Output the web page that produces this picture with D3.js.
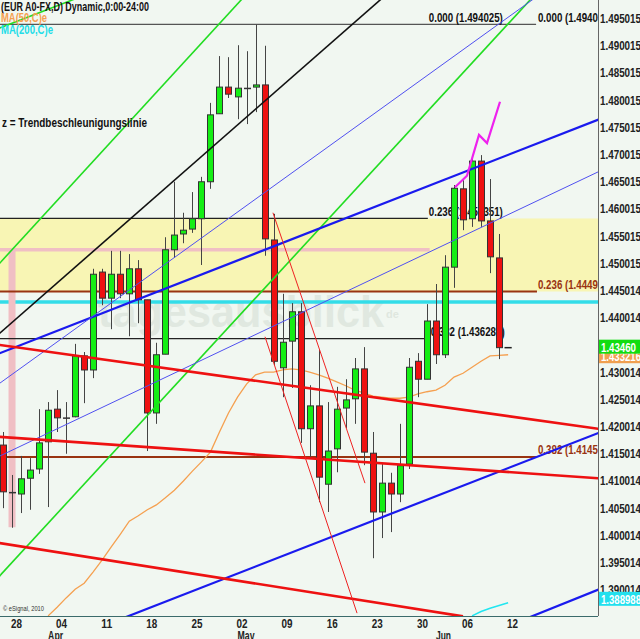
<!DOCTYPE html>
<html><head><meta charset="utf-8">
<script src="https://cdn.jsdelivr.net/npm/d3@7"></script>
<style>body{margin:0;background:#f1f7f1;} svg{display:block;}</style>
</head><body>
<script>
// ---------- DATA ----------
const dates = ["2010-03-26","2010-03-29","2010-03-30","2010-03-31","2010-04-01","2010-04-02","2010-04-05","2010-04-06","2010-04-07","2010-04-08","2010-04-09","2010-04-12","2010-04-13","2010-04-14","2010-04-15","2010-04-16","2010-04-19","2010-04-20","2010-04-21","2010-04-22","2010-04-23","2010-04-26","2010-04-27","2010-04-28","2010-04-29","2010-04-30","2010-05-03","2010-05-04","2010-05-05","2010-05-06","2010-05-07","2010-05-10","2010-05-11","2010-05-12","2010-05-13","2010-05-14","2010-05-17","2010-05-18","2010-05-19","2010-05-20","2010-05-21","2010-05-24","2010-05-25","2010-05-26","2010-05-27","2010-05-28","2010-05-31","2010-06-01","2010-06-02","2010-06-03","2010-06-04","2010-06-07","2010-06-08","2010-06-09","2010-06-10","2010-06-11"];
const open  = [1.4167,1.4080,1.4077,1.4106,1.4123,1.4173,1.4233,1.4217,1.4219,1.4331,1.4305,1.4485,1.4437,1.4481,1.4445,1.4491,1.4434,1.4226,1.4334,1.4526,1.4555,1.4564,1.4583,1.4651,1.4776,1.4825,1.4807,1.4823,1.4825,1.4829,1.4544,1.4309,1.4358,1.4412,1.4197,1.4239,1.4095,1.4160,1.4235,1.4252,1.4307,1.4152,1.4044,1.4097,1.4077,1.4132,1.4321,1.4288,1.4395,1.4333,1.4494,1.4638,1.4583,1.4689,1.4579,1.4511];
const high  = [1.4191,1.4112,1.4147,1.4143,1.4233,1.4246,1.4268,1.4246,1.4353,1.4338,1.4491,1.4491,1.4524,1.4524,1.4518,1.4507,1.4434,1.4355,1.4549,1.4651,1.4594,1.4632,1.4660,1.4796,1.4882,1.4880,1.4902,1.4891,1.4940,1.4901,1.4592,1.4445,1.4428,1.4428,1.4277,1.4342,1.4246,1.4274,1.4288,1.4327,1.4347,1.4191,1.4132,1.4116,1.4206,1.4327,1.4336,1.4426,1.4463,1.4516,1.4645,1.4654,1.4700,1.4700,1.4656,1.4555];
const low   = [1.4051,1.4015,1.4042,1.4048,1.4114,1.4053,1.4191,1.4151,1.4218,1.4244,1.4290,1.4424,1.4380,1.4437,1.4367,1.4391,1.4156,1.4206,1.4334,1.4511,1.4538,1.4557,1.4498,1.4638,1.4776,1.4805,1.4766,1.4757,1.4779,1.4515,1.4314,1.4255,1.4272,1.4171,1.4145,1.4062,1.4044,1.4117,1.4198,1.4206,1.4130,1.3959,1.3996,1.4007,1.4062,1.4123,1.4255,1.4288,1.4316,1.4327,1.4456,1.4562,1.4568,1.4568,1.4483,1.4325];
const close = [1.4081,1.4079,1.4105,1.4121,1.4171,1.4231,1.4217,1.4216,1.4331,1.4305,1.4481,1.4437,1.4481,1.4445,1.4491,1.4434,1.4226,1.4333,1.4526,1.4553,1.4562,1.4583,1.4651,1.4774,1.4825,1.4812,1.4823,1.4822,1.4829,1.4546,1.4321,1.4356,1.4412,1.4197,1.4239,1.4108,1.4156,1.4233,1.4250,1.4307,1.4154,1.4044,1.4097,1.4077,1.4129,1.4310,1.4288,1.4395,1.4333,1.4494,1.4639,1.4581,1.4689,1.4579,1.4513,1.4346];

const ma50Start = 5;
const ma50 = [1.3853,1.3869,1.3886,1.3902,1.3913,1.3934,1.3956,1.3980,1.4003,1.4027,1.4037,1.4048,1.4057,1.4070,1.4084,1.4101,1.4119,1.4136,1.4154,1.4191,1.4226,1.4255,1.4279,1.4296,1.4301,1.4301,1.4305,1.4307,1.4305,1.4301,1.4296,1.4290,1.4283,1.4276,1.4268,1.4263,1.4257,1.4255,1.4253,1.4253,1.4255,1.4261,1.4265,1.4268,1.4277,1.4292,1.4299,1.4310,1.4321,1.4331,1.4332,1.4333];
const ma200Start = 52;
const ma200 = [1.3853,1.3861,1.3867,1.3872,1.3877];

const lastPrice = 1.43460, lastMa50 = 1.433216, lastMa200 = 1.388988;
const lastPriceLabel = "1.43460", lastMa50Label = "1.433216", lastMa200Label = "1.388988";

const priceTicks = [1.495015,1.490015,1.485015,1.480015,1.475015,1.470015,1.465015,1.460015,1.455015,1.450015,1.445014,1.440014,1.435014,1.430014,1.425014,1.420014,1.415014,1.410014,1.405014,1.400014,1.395014,1.390014];
const priceTickLabels = ["1.495015","1.490015","1.485015","1.480015","1.475015","1.470015","1.465015","1.460015","1.455015","1.450015","1.445014","1.440014","1.435014","1.430014","1.425014","1.420014","1.415014","1.410014","1.405014","1.400014","1.395014","1.390014"];

const weekTickIndex = [1,6,11,16,21,26,31,36,41,46,51,56];
const weekTickLabels = ["28","04","11","18","25","02","09","16","23","30","06","12"];
const monthTickIndex = [5,26,48];
const monthLabels = ["Apr","May","Jun"];

// trend lines: two anchors [barIndex, price]
const trendNames  = ["black","greenA","greenB","greenC","blueUp","blueThin1","blueThin2","blueLow","blueLowest","redA","redB","redC"];
const trendP1     = [[-0.33,1.4373],[-0.33,1.4934],[2.99,1.4562],[32.93,1.4526],[-0.33,1.4336],[-0.33,1.4281],[-0.33,1.4147],[13.97,1.3853],[58.76,1.3853],[-0.33,1.4351],[-0.33,1.4182],[25.50,1.3919]];
const trendP2     = [[41.8,1.4985],[7.65,1.4985],[26.39,1.4985],[58.43,1.4985],[65.96,1.4765],[58.65,1.4985],[65.96,1.4669],[65.96,1.4189],[65.96,1.3901],[65.96,1.4197],[65.96,1.4106],[49.89,1.3855]];
const trendColors = ["#111111","#22dd22","#22dd22","#22dd22","#1a1aee","#5050f0","#5050f0","#1a1aee","#1a1aee","#ee1111","#ee1111","#ee1111"];
const trendWidths = [1.6,1.6,1.6,1.6,2.2,1,1,2.2,2.2,2.6,2.6,2.6];

// thin red segments
const segP1 = [[29.93,1.4594],[29.05,1.4366]];
const segP2 = [[40.13,1.4097],[39.25,1.3858]];

// magenta acceleration line
const zIdx   = [50.11,51.44,52.77,53.66,55.10];
const zPrice = [1.4641,1.4662,1.4737,1.4722,1.4798];

// horizontal levels
const fibLines  = [
  {p:1.494025, to:59.1, color:"#555555", w:1.2, label:"0.000 (1.494025)", lx:[47.1,59.2], lc:"#111"},
  {p:1.458351, to:47.1, color:"#222222", w:1.2, label:"0.236 (1.458351)", lx:[47.1], lc:"#111"},
  {p:1.436281, to:47.3, color:"#222222", w:1.2, label:"0.382 (1.436281)", lx:[47.3], lc:"#111"},
  {p:1.444925, to:59.2, color:"#993311", w:2.2, label:"0.236 (1.444925)", lx:[59.2], lc:"#993311"},
  {p:1.414504, to:59.2, color:"#993311", w:2.2, label:"0.382 (1.414504)", lx:[59.2], lc:"#993311"}
];
const zoneTop = 1.458351, zoneBottom = 1.444925;
const cyanLevel = 1.4430;
const pinkLevel = 1.4526, pinkTo = 47.3;
const pinkBarIdx = 1, pinkBarTop = 1.4526, pinkBarBottom = 1.4016;

// ---------- CHART ----------
const W = 640, H = 639, PR = 598, PB = 616;
const svg = d3.select("body").append("svg").attr("width", W).attr("height", H)
  .style("font-family","Arial,'Liberation Sans',sans-serif");
svg.append("rect").attr("width",W).attr("height",H).attr("fill","#f1f7f1");

const x = d3.scaleLinear().domain([-0.3326, 65.965]).range([0, PR]);
const y = d3.scaleLinear().domain([1.38546, 1.49851]).range([615, 0]);

function narrow(sel, len){ return sel.attr("textLength",len).attr("lengthAdjust","spacingAndGlyphs"); }

svg.append("defs").append("clipPath").attr("id","plot")
  .append("rect").attr("x",0).attr("y",0).attr("width",PR).attr("height",PB);
const g = svg.append("g").attr("clip-path","url(#plot)");

// yellow zone
g.append("rect").attr("x",0).attr("width",PR)
  .attr("y", y(zoneTop)).attr("height", y(zoneBottom)-y(zoneTop)).attr("fill","#f8f5b4");

// watermark
narrow(g.append("text").attr("x",98).attr("y",327).attr("font-size",44).attr("font-weight","bold")
  .attr("fill","#e0e8e0").text("tagesausblick"), 286);
g.append("text").attr("x",386).attr("y",318).attr("font-size",11).attr("font-weight","bold")
  .attr("fill","#dfe7df").text("de");

// cyan level
g.append("line").attr("x1",0).attr("x2",PR).attr("y1",y(cyanLevel)).attr("y2",y(cyanLevel))
  .attr("stroke","#33dde8").attr("stroke-width",3.5);
// pink
g.append("line").attr("x1",0).attr("x2",x(pinkTo)).attr("y1",y(pinkLevel)).attr("y2",y(pinkLevel))
  .attr("stroke","#f0bfc4").attr("stroke-width",3.5);
g.append("rect").attr("x",x(pinkBarIdx)-3.5).attr("width",7)
  .attr("y",y(pinkBarTop)).attr("height",y(pinkBarBottom)-y(pinkBarTop)).attr("fill","#f0bfc4");

// fib lines & labels
fibLines.forEach(f => {
  g.append("line").attr("x1",0).attr("x2",x(f.to)).attr("y1",y(f.p)).attr("y2",y(f.p))
    .attr("stroke",f.color).attr("stroke-width",f.w);
  f.lx.forEach(ix => {
    narrow(g.append("text").attr("x",x(ix)+1).attr("y",y(f.p)-2.5).attr("font-size",12).attr("font-weight","bold")
      .attr("fill",f.lc).text(f.label), 74);
  });
});

// MA lines
const line = d3.line().x(d=>x(d[0])).y(d=>y(d[1]));
g.append("path").attr("d", line(ma50.map((v,i)=>[i+ma50Start, v])))
  .attr("fill","none").attr("stroke","#f5a050").attr("stroke-width",1.3);
g.append("path").attr("d", line(ma200.map((v,i)=>[i+ma200Start, v])))
  .attr("fill","none").attr("stroke","#22e6f0").attr("stroke-width",1.5);

// candles
const bw = 6;
const cg = g.append("g");
dates.forEach((d,i) => {
  const cx = Math.round(x(i)) + 0.5;
  cg.append("line").attr("x1",cx).attr("x2",cx).attr("y1",y(high[i])).attr("y2",y(low[i]))
    .attr("stroke","#444").attr("stroke-width",1);
  const top = y(Math.max(open[i],close[i])), bot = y(Math.min(open[i],close[i]));
  const up = close[i] >= open[i];
  if (bot - top < 1.5) {
    cg.append("line").attr("x1",cx-bw/2-0.5).attr("x2",cx+bw/2+0.5).attr("y1",(top+bot)/2).attr("y2",(top+bot)/2)
      .attr("stroke", up ? "#1a8a1a" : "#333").attr("stroke-width",1.5);
  } else {
    cg.append("rect").attr("x",cx-bw/2).attr("width",bw).attr("y",top).attr("height",bot-top)
      .attr("fill", up ? "#15ee15" : "#ee1111").attr("stroke","#333").attr("stroke-width",1);
  }
});
// last price dash
g.append("line").attr("x1",x(55.6)).attr("x2",x(56.4)).attr("y1",y(lastPrice)).attr("y2",y(lastPrice))
  .attr("stroke","#222").attr("stroke-width",1.5);

// trend lines, extended across the plot
trendNames.forEach((n,k) => {
  const [i1,p1] = trendP1[k], [i2,p2] = trendP2[k];
  const x1 = x(i1), y1 = y(p1), x2 = x(i2), y2 = y(p2);
  const s = (y2-y1)/(x2-x1);
  let xa = -20, xb = PR+20;
  if (n === "redC") { xb = x2 + 10; }
  g.append("line").attr("x1",xa).attr("y1",y1+s*(xa-x1)).attr("x2",xb).attr("y2",y1+s*(xb-x1))
    .attr("stroke",trendColors[k]).attr("stroke-width",trendWidths[k]);
});
segP1.forEach((p,k) => {
  g.append("line").attr("x1",x(p[0])).attr("y1",y(p[1])).attr("x2",x(segP2[k][0])).attr("y2",y(segP2[k][1]))
    .attr("stroke","#ee2222").attr("stroke-width",1);
});
g.append("path").attr("d", line(zIdx.map((v,i)=>[v, zPrice[i]])))
  .attr("fill","none").attr("stroke","#ee22ee").attr("stroke-width",2.2);

// texts top-left
const t = svg.append("g").attr("font-weight","bold").attr("font-size",12);
narrow(t.append("text").attr("x",1).attr("y",11).attr("fill","#111").text("(EUR A0-FX,D) Dynamic,0:00-24:00"), 148);
narrow(t.append("text").attr("x",1).attr("y",22).attr("fill","#f5a050").text("MA(50,C)e"), 46);
narrow(t.append("text").attr("x",1).attr("y",34).attr("fill","#22dde8").text("MA(200,C)e"), 52);
narrow(t.append("text").attr("x",2).attr("y",127).attr("fill","#111").text("z = Trendbeschleunigungslinie"), 145);
narrow(svg.append("text").attr("x",3).attr("y",611).attr("font-size",7).attr("fill","#333")
  .text("© eSignal, 2010"), 41);

// axes frame
svg.append("line").attr("x1",PR+0.5).attr("x2",PR+0.5).attr("y1",0).attr("y2",PB).attr("stroke","#666").attr("stroke-width",1);
svg.append("line").attr("x1",0).attr("x2",PR).attr("y1",PB+0.5).attr("y2",PB+0.5).attr("stroke","#3b6b6b").attr("stroke-width",1.2);

// right axis labels
const ya = svg.append("g").attr("font-weight","bold").attr("font-size",12).attr("fill","#222");
priceTicks.forEach((v,k) => {
  narrow(ya.append("text").attr("x",PR+2).attr("y",y(v)+4).text(priceTickLabels[k]), 41);
});
// last value boxes
function box(v, label, fill, dy, len){
  const yy = y(v)+dy;
  svg.append("rect").attr("x",PR+1).attr("y",yy-7).attr("width",42).attr("height",14).attr("fill",fill);
  narrow(svg.append("text").attr("x",PR+3).attr("y",yy+5).attr("font-size",13).attr("font-weight","bold")
    .attr("fill","#fff").text(label), len);
}
box(lastMa50, lastMa50Label, "#f0a050", 1, 40);
box(lastPrice, lastPriceLabel, "#11dd11", -1, 35);
box(lastMa200, lastMa200Label, "#22e0ee", 3, 40);

// x axis labels
const xa = svg.append("g").attr("font-weight","bold").attr("font-size",12).attr("fill","#222");
weekTickIndex.forEach((ix,k) => {
  narrow(xa.append("text").attr("x",x(ix)-1).attr("y",628).text(weekTickLabels[k]), 11);
});
monthTickIndex.forEach((ix,k) => {
  narrow(xa.append("text").attr("x",x(ix)).attr("y",640).text(monthLabels[k]), monthLabels[k]==="May"?17:15);
});
</script>
</body></html>
